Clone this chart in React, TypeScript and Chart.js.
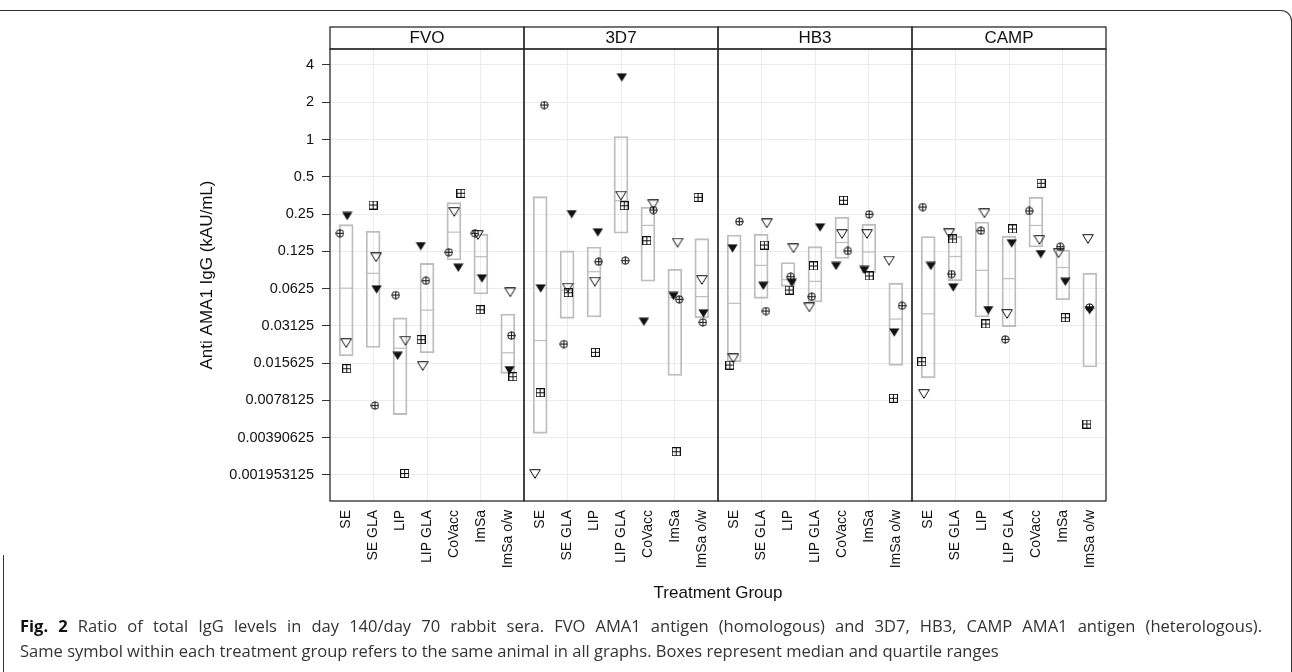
import React, { useEffect, useRef } from 'react';
import { Chart, registerables } from 'chart.js';

Chart.register(...registerables);

// ---------- data ----------
const panels = ['FVO', '3D7', 'HB3', 'CAMP'];
const categories = ['SE', 'SE GLA', 'LIP', 'LIP GLA', 'CoVacc', 'ImSa', 'ImSa o/w'];
const yTicks = [4, 2, 1, 0.5, 0.25, 0.125, 0.0625, 0.03125, 0.015625, 0.0078125, 0.00390625, 0.001953125];
const yMin = 0.001204;
const yMax = 5.386;

// animal symbols: circle-plus, filled down triangle, open down triangle, square-plus
const fvoCirclePlus = [0.175, 0.0071, 0.0555, 0.0724, 0.1228, 0.175, 0.0261];
const fvoFilledTri = [0.2415, 0.0617, 0.01795, 0.138, 0.0923, 0.0757, 0.01376];
const fvoOpenTri = [0.0227, 0.1119, 0.0237, 0.01482, 0.26, 0.1694, 0.0583];
const fvoSquarePlus = [0.0141, 0.296, 0.00201, 0.0242, 0.368, 0.0422, 0.01215];

const d3d7CirclePlus = [1.9, 0.0223, 0.1031, 0.1051, 0.2696, 0.0512, 0.0334];
const d3d7FilledTri = [0.0628, 0.2503, 0.1781, 3.18, 0.0338, 0.0545, 0.0395];
const d3d7OpenTri = [0.00199, 0.0636, 0.0711, 0.352, 0.2997, 0.1469, 0.0734];
const d3d7SquarePlus = [0.00902, 0.0579, 0.0191, 0.292, 0.1524, 0.00301, 0.3415];

const hb3CirclePlus = [0.2171, 0.0412, 0.078, 0.0538, 0.1259, 0.249, 0.0455];
const hb3FilledTri = [0.1323, 0.066, 0.0698, 0.1954, 0.0952, 0.0884, 0.0277];
const hb3OpenTri = [0.0171, 0.2105, 0.1323, 0.0441, 0.1725, 0.1725, 0.1051];
const hb3SquarePlus = [0.0151, 0.1406, 0.0609, 0.0952, 0.3231, 0.0791, 0.00813];

const campCirclePlus = [0.2852, 0.082, 0.1835, 0.02435, 0.2648, 0.1363, 0.0441];
const campFilledTri = [0.0952, 0.064, 0.042, 0.1452, 0.119, 0.0711, 0.042];
const campOpenTri = [0.00881, 0.1747, 0.2537, 0.039, 0.1545, 0.1206, 0.1573];
const campSquarePlus = [0.01606, 0.1573, 0.0324, 0.1895, 0.4432, 0.0364, 0.00504];

// horizontal jitter (category units)
const fvoCirclePlusJitter = [-0.23, 0.07, -0.16, -0.04, -0.19, -0.22, 0.13];
const fvoFilledTriJitter = [0.04, 0.13, -0.09, -0.23, 0.16, 0.04, 0.06];
const fvoOpenTriJitter = [0, 0.11, 0.2, -0.16, 0.01, -0.11, 0.09];
const fvoSquarePlusJitter = [0.02, 0, 0.17, -0.22, 0.26, -0.03, 0.19];

const d3d7CirclePlusJitter = [0.15, -0.12, 0.17, 0.16, 0.2, 0.16, 0.04];
const d3d7FilledTriJitter = [0.02, 0.17, 0.14, 0.03, -0.15, -0.05, 0.06];
const d3d7OpenTriJitter = [-0.19, 0.02, 0.03, 0, 0.2, 0.1, 0];
const d3d7SquarePlusJitter = [0, 0.04, 0.05, 0.12, -0.04, 0.05, -0.14];

const hb3CirclePlusJitter = [0.19, 0.18, 0.1, -0.12, 0.22, 0.01, 0.23];
const hb3FilledTriJitter = [-0.06, 0.08, 0.14, 0.19, -0.22, -0.17, -0.06];
const hb3OpenTriJitter = [-0.03, 0.21, 0.2, -0.21, 0, -0.07, -0.25];
const hb3SquarePlusJitter = [-0.16, 0.12, 0.04, -0.06, 0.06, 0.01, -0.09];

const campCirclePlusJitter = [-0.2, -0.13, -0.04, -0.14, -0.25, -0.1, -0.01];
const campFilledTriJitter = [0.1, -0.07, 0.23, 0.1, 0.18, 0.09, -0.01];
const campOpenTriJitter = [-0.16, -0.22, 0.09, -0.07, 0.13, -0.16, -0.07];
const campSquarePlusJitter = [-0.24, -0.09, 0.14, 0.13, 0.19, 0.09, -0.11];

const panelValues = [
  [fvoCirclePlus, fvoFilledTri, fvoOpenTri, fvoSquarePlus],
  [d3d7CirclePlus, d3d7FilledTri, d3d7OpenTri, d3d7SquarePlus],
  [hb3CirclePlus, hb3FilledTri, hb3OpenTri, hb3SquarePlus],
  [campCirclePlus, campFilledTri, campOpenTri, campSquarePlus],
];
const panelJitter = [
  [fvoCirclePlusJitter, fvoFilledTriJitter, fvoOpenTriJitter, fvoSquarePlusJitter],
  [d3d7CirclePlusJitter, d3d7FilledTriJitter, d3d7OpenTriJitter, d3d7SquarePlusJitter],
  [hb3CirclePlusJitter, hb3FilledTriJitter, hb3OpenTriJitter, hb3SquarePlusJitter],
  [campCirclePlusJitter, campFilledTriJitter, campOpenTriJitter, campSquarePlusJitter],
];

// ---------- helpers ----------
const PANEL_SPAN = 7.2;
const catPos = (p: number, j: number) => p * PANEL_SPAN + 0.6 + j;

// Tukey hinges (R fivenum) on log2 values
function hinges(vals: number[]) {
  const l = vals.map((v) => Math.log2(v)).sort((a, b) => a - b);
  const n = l.length;
  const n4 = Math.floor((n + 3) / 2) / 2;
  const d = [n4, (n + 1) / 2, n + 1 - n4];
  return d.map((di) => 2 ** (0.5 * (l[Math.floor(di) - 1] + l[Math.ceil(di) - 1])));
}

function makeSymbol(kind: string): HTMLCanvasElement {
  const c = document.createElement('canvas');
  const ink = '#111';
  let w = 9, h = 9;
  if (kind === 'filledTri') { w = 11; h = 9; }
  if (kind === 'openTri') { w = 12; h = 10; }
  c.width = w; c.height = h;
  const g = c.getContext('2d')!;
  g.strokeStyle = ink; g.fillStyle = ink; g.lineWidth = 1;
  if (kind === 'circlePlus') {
    g.beginPath(); g.arc(4.5, 4.5, 3.7, 0, Math.PI * 2); g.stroke();
    g.beginPath(); g.moveTo(4.5, 0.8); g.lineTo(4.5, 8.2); g.moveTo(0.8, 4.5); g.lineTo(8.2, 4.5); g.stroke();
  } else if (kind === 'squarePlus') {
    g.strokeRect(0.5, 0.5, 8, 8);
    g.beginPath(); g.moveTo(4.5, 0.5); g.lineTo(4.5, 8.5); g.moveTo(0.5, 4.5); g.lineTo(8.5, 4.5); g.stroke();
  } else if (kind === 'filledTri') {
    g.beginPath(); g.moveTo(0.3, 0.5); g.lineTo(10.7, 0.5); g.lineTo(5.5, 8.8); g.closePath(); g.fill();
  } else {
    g.beginPath(); g.moveTo(0.7, 0.7); g.lineTo(11.3, 0.7); g.lineTo(6, 9.3); g.closePath(); g.stroke();
  }
  return c;
}

const FONT = "'Liberation Sans', Arial, Helvetica, sans-serif";

const panelPlugin = {
  id: 'panelFrames',
  afterDatasetsDraw(chart: any) {
    const { ctx, chartArea } = chart;
    const xs = chart.scales.x;
    const top = chartArea.top;
    const bottom = chartArea.bottom;
    const stripH = 22;
    ctx.save();
    ctx.strokeStyle = '#2a2a2a';
    ctx.lineWidth = 1.3;
    ctx.font = `17px ${FONT}`;
    ctx.fillStyle = '#111';
    ctx.textAlign = 'center';
    ctx.textBaseline = 'middle';
    panels.forEach((name, p) => {
      const x0 = xs.getPixelForValue(p * PANEL_SPAN);
      const x1 = xs.getPixelForValue((p + 1) * PANEL_SPAN);
      ctx.strokeRect(x0, top - stripH, x1 - x0, stripH);
      ctx.strokeRect(x0, top, x1 - x0, bottom - top);
      ctx.fillText(name, (x0 + x1) / 2, top - stripH / 2 + 0.5);
    });
    ctx.restore();
  },
};

export default function App() {
  const ref = useRef<HTMLCanvasElement>(null);

  useEffect(() => {
    if (!ref.current) return;
    const symbolKinds = ['circlePlus', 'filledTri', 'openTri', 'squarePlus'];
    const symbols = symbolKinds.map(makeSymbol);

    const boxData: any[] = [];
    const medianData: any[] = [];
    const tickPositions: number[] = [];
    panels.forEach((_, p) => {
      categories.forEach((__, j) => {
        const x = catPos(p, j);
        tickPositions.push(x);
        const vals = panelValues[p].map((s) => s[j]);
        const [q1, med, q3] = hinges(vals);
        boxData.push({ x, y: [q1, q3] });
        medianData.push({ x, y: med });
      });
    });

    const symbolSets = symbolKinds.map((kind, k) => {
      const data: any[] = [];
      panels.forEach((_, p) => {
        categories.forEach((__, j) => {
          data.push({ x: catPos(p, j) + panelJitter[p][k][j], y: panelValues[p][k][j] });
        });
      });
      return {
        type: 'scatter',
        label: kind,
        data,
        pointStyle: symbols[k],
        pointRadius: 5,
        order: k,
      };
    });

    const boxColor = '#bdbdbd';
    const chart = new Chart(ref.current, {
      type: 'scatter',
      data: {
        datasets: [
          {
            type: 'bar',
            label: 'box',
            data: boxData,
            backgroundColor: 'rgba(0,0,0,0)',
            borderColor: boxColor,
            borderWidth: 1.2,
            borderSkipped: false,
            barThickness: 14,
            order: 20,
          } as any,
          {
            type: 'scatter',
            label: 'median',
            data: medianData,
            pointStyle: 'line',
            pointRadius: 6.5,
            borderColor: boxColor,
            pointBorderWidth: 1.2,
            borderWidth: 1.2,
            order: 19,
          } as any,
          ...(symbolSets as any[]),
        ],
      },
      options: {
        animation: false,
        responsive: false,
        maintainAspectRatio: false,
        events: [],
        layout: { padding: { left: 197, top: 49, right: 186, bottom: 6 } },
        plugins: { legend: { display: false }, tooltip: { enabled: false } },
        scales: {
          x: {
            type: 'linear',
            offset: false,
            min: 0,
            max: PANEL_SPAN * panels.length,
            afterBuildTicks: (s: any) => {
              s.ticks = tickPositions.map((v) => ({ value: v }));
            },
            afterFit: (s: any) => {
              s.height = 103;
            },
            ticks: {
              autoSkip: false,
              minRotation: 90,
              maxRotation: 90,
              padding: 9,
              color: '#111',
              font: { family: FONT, size: 14 },
              callback: (_v: any, i: number) => categories[i % categories.length],
            },
            grid: {
              offset: false,
              drawTicks: false,
              lineWidth: 1,
              color: (c: any) => ((c.index % categories.length) % 2 === 1 ? '#ebebeb' : 'rgba(0,0,0,0)'),
            },
            border: { display: false },
            title: {
              display: true,
              text: 'Treatment Group',
              color: '#111',
              font: { family: FONT, size: 17 },
              padding: 0,
            },
          },
          y: {
            type: 'logarithmic',
            min: yMin,
            max: yMax,
            afterBuildTicks: (s: any) => {
              s.ticks = yTicks.map((v) => ({ value: v }));
            },
            afterFit: (s: any) => {
              s.width = 133;
            },
            ticks: {
              autoSkip: false,
              padding: 8,
              color: '#111',
              font: { family: FONT, size: 14.5 },
              callback: (v: any) => String(v),
            },
            grid: {
              color: '#ebebeb',
              lineWidth: 1,
              tickColor: '#333',
              tickLength: 8,
              tickWidth: 1,
            },
            border: { display: false },
            title: {
              display: true,
              text: 'Anti AMA1 IgG (kAU/mL)',
              color: '#111',
              font: { family: FONT, size: 17 },
              padding: 0,
            },
          },
        },
      } as any,
      plugins: [panelPlugin],
    });
    return () => chart.destroy();
  }, []);

  return (
    <div style={{ position: 'fixed', left: 0, top: 0, width: 1292, height: 672, background: '#fff', overflow: 'hidden' }}>
      <canvas ref={ref} width={1292} height={610} style={{ position: 'absolute', left: 0, top: 0, width: 1292, height: 610 }} />
      <div
        style={{
          position: 'absolute',
          left: -20,
          top: 10,
          width: 1312,
          height: 720,
          boxSizing: 'border-box',
          borderTop: '1.5px solid #333',
          borderRight: '1.5px solid #333',
          borderTopRightRadius: 11,
        }}
      />
      <div style={{ position: 'absolute', left: 3, top: 555, width: 0, height: 130, borderLeft: '1.5px solid #333' }} />
      <div
        style={{
          position: 'absolute',
          left: 20,
          top: 613,
          fontFamily: "'Open Sans', 'Noto Sans', sans-serif",
          fontSize: 16.55,
          lineHeight: '25px',
          color: '#333',
          whiteSpace: 'nowrap',
        }}
      >
        <div style={{ width: 1242, textAlign: 'justify', textAlignLast: 'justify' as any }}>
          <b style={{ color: '#111' }}>Fig. 2</b> Ratio of total IgG levels in day 140/day 70 rabbit sera. FVO AMA1 antigen (homologous) and 3D7, HB3, CAMP AMA1 antigen (heterologous).
        </div>
        <div>Same symbol within each treatment group refers to the same animal in all graphs. Boxes represent median and quartile ranges</div>
      </div>
    </div>
  );
}
